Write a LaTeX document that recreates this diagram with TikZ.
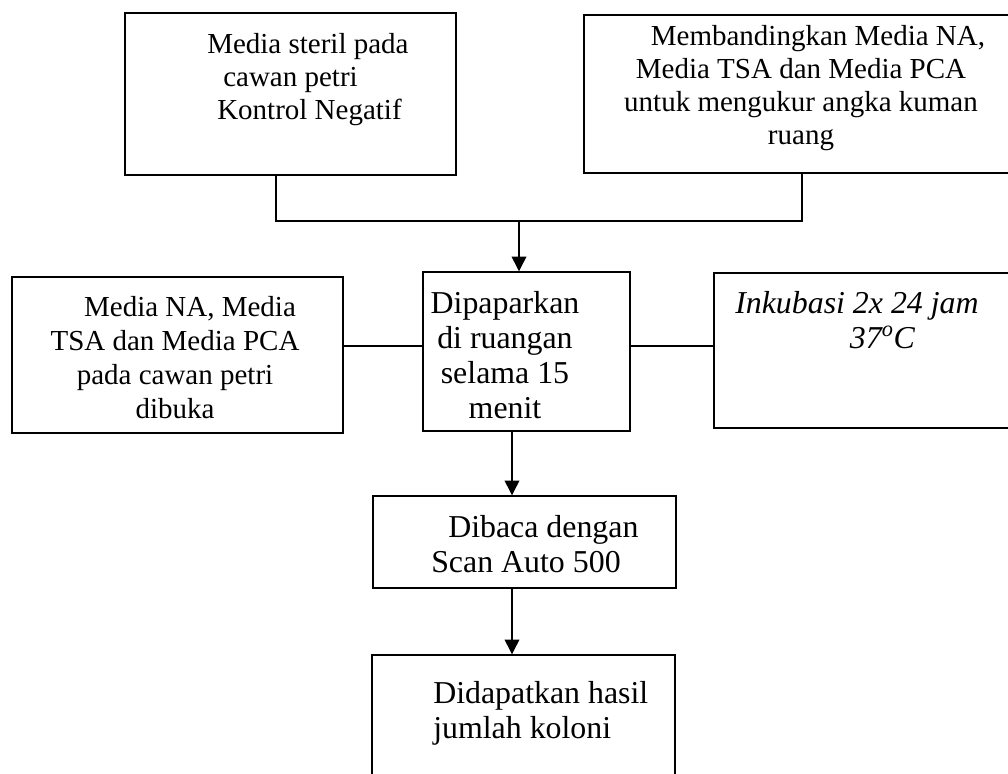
\documentclass[tikz,border=0pt]{standalone}
\usepackage{fontspec}
\setmainfont{Liberation Serif}
\usetikzlibrary{arrows.meta}

\begin{document}
\begin{tikzpicture}[x=0.75pt,y=-0.75pt,
    box/.style 2 args={draw, line width=1.1pt, minimum width=#1*0.75pt, minimum height=#2*0.75pt, inner sep=0pt},
    txt/.style={inner sep=0pt, font=\fontsize{21.75}{24.75}\selectfont},
    bigtxt/.style={inner sep=0pt, font=\fontsize{23.9}{26.25}\selectfont},
    arr/.style={line width=1.1pt, -{Triangle[length=11pt,width=11pt]}},
    conn/.style={line width=1.1pt}]
        \useasboundingbox (0,0) rectangle (1008,774);
        \clip (0,0) rectangle (1008,774);
        %%Boxes
        \node[box={331}{162}] (steril) at (290.5,94) {};
        \node[box={428}{158}] (banding) at (798,94) {};
        \node[box={331}{156}] (buka) at (177.5,355) {};
        \node[box={207}{159}] (papar) at (526.5,351.5) {};
        \node[box={298}{155}] (inkubasi) at (863,350.5) {};
        \node[box={303}{92}] (baca) at (524.5,542) {};
        \node[box={303}{135}] (hasil) at (523.5,722.5) {};
        %%Texts
        \node[txt, anchor=north west, align=left] (tsteril) at (207,33)
        {Media steril pada\\\hspace*{12pt}cawan petri\\\hspace*{7.5pt}Kontrol Negatif};
        \node[txt, anchor=north, align=center] (tbanding) at (801,25)
        {\hspace*{25.5pt}Membandingkan Media NA,\\Media TSA dan Media PCA\\untuk mengukur angka kuman\\ruang};
        \node[txt, anchor=north, align=center, font=\fontsize{21.75}{25.5}\selectfont] (tbuka) at (175,296)
        {\hspace*{22.5pt}Media NA, Media\\TSA dan Media PCA\\pada cawan petri\\dibuka};
        \node[bigtxt, anchor=north, align=center] (tpapar) at (505,291)
        {Dipaparkan\\di ruangan\\selama 15\\menit};
        \node[bigtxt, anchor=north west, align=left] (tinkubasi) at (735,291)
        {\itshape Inkubasi 2x 24 jam\\\hspace*{86pt}\itshape 37\textsuperscript{o}C};
        \node[bigtxt, anchor=north west, align=left] (tbaca) at (431,515)
        {\hspace*{12.75pt}Dibaca dengan\\Scan Auto 500};
        \node[bigtxt, anchor=north west, align=left] (thasil) at (433,681)
        {Didapatkan hasil\\jumlah koloni};
        %%Connectors
        \coordinate (jl) at (276,221);
        \coordinate (jr) at (802,221);
        \coordinate (jm) at (519,221);
        \coordinate (lv) at (0,346);
        \coordinate (av) at (512,0);
        \draw[conn] (steril.south -| jl) -- (jl) -- (jr) -- (banding.south -| jr);
        \draw[arr] (jm) -- (papar.north -| jm);
        \draw[conn] (buka.east |- lv) -- (papar.west |- lv);
        \draw[conn] (papar.east |- lv) -- (inkubasi.west |- lv);
        \draw[arr] (papar.south -| av) -- (baca.north -| av);
        \draw[arr] (baca.south -| av) -- (hasil.north -| av);
\end{tikzpicture}
\end{document}
